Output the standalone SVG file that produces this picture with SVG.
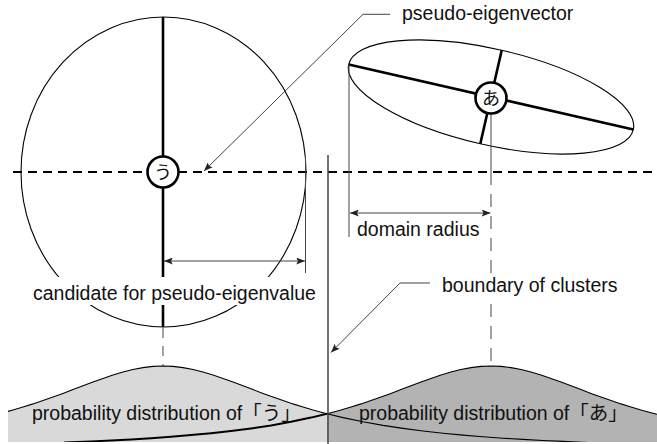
<svg xmlns="http://www.w3.org/2000/svg" width="657" height="444" viewBox="0 0 657 444">
<defs>
<style>
.lbl{font-family:"Liberation Sans","Noto Sans CJK JP",Arial,sans-serif;font-size:19.5px;fill:#111}
.kana{font-family:"Noto Sans CJK JP","Liberation Sans",sans-serif;font-size:18px;fill:#111;text-anchor:middle}
.thin{fill:none;stroke:#444;stroke-width:1}
.thick{fill:none;stroke:#000;stroke-width:2.6}
.outline{fill:none;stroke:#000;stroke-width:1.1}
.node{fill:#fff;stroke:#000;stroke-width:2.6}
.bg{fill:#fff}
</style>
<marker id="arr" viewBox="0 0 10 8" refX="10" refY="4" markerWidth="9" markerHeight="7" markerUnits="userSpaceOnUse" orient="auto-start-reverse">
<path d="M0,0 L10,4 L0,8 L2,4 Z" fill="#222"/>
</marker>
<clipPath id="clipb"><rect x="0" y="0" width="657" height="442"/></clipPath>
</defs>

<g id="distributions" clip-path="url(#clipb)">
<path id="fill-u" fill="#d9d9d9" d="M8,442 L8,411.4 L13,410 L23,407 L33,403.9 L43,400.5 L53,397 L63,393.4 L73,389.6 L83,385.8 L93,382 L103,378.4 L113,375 L123,372 L133,369.5 L143,367.6 L153,366.4 L163,366 L173,366.4 L183,367.6 L193,369.5 L203,372 L213,375 L223,378.4 L233,382 L243,385.8 L253,389.6 L263,393.4 L273,397 L283,400.5 L293,403.9 L303,407 L313,410 L323,412.7 L327,413.7 L327,442 Z"/>
<path id="fill-a" fill="#b3b3b3" d="M327,442 L327,413.7 L331,412.7 L341,410 L351,407 L361,403.9 L371,400.5 L381,397 L391,393.4 L401,389.6 L411,385.8 L421,382 L431,378.4 L441,375 L451,372 L461,369.5 L471,367.6 L481,366.4 L491,366 L501,366.4 L511,367.6 L521,369.5 L531,372 L541,375 L551,378.4 L561,382 L571,385.8 L581,389.6 L591,393.4 L601,397 L611,400.5 L621,403.9 L631,407 L641,410 L651,412.7 L657,414.2 L657,442 Z"/>
<path class="outline" d="M8,411.4 L13,410 L23,407 L33,403.9 L43,400.5 L53,397 L63,393.4 L73,389.6 L83,385.8 L93,382 L103,378.4 L113,375 L123,372 L133,369.5 L143,367.6 L153,366.4 L163,366 L173,366.4 L183,367.6 L193,369.5 L203,372 L213,375 L223,378.4 L233,382 L243,385.8 L253,389.6 L263,393.4 L273,397 L283,400.5 L293,403.9 L303,407 L313,410 L323,412.7 L327,413.7 L343,417.6 L363,421.8 L383,425.4 L403,428.4 L423,431 L443,433.2 L463,435.1 L483,436.8 L503,438.2 L523,439.4 L543,440.5 L563,441.4 L577,442 L590,442.6"/>
<path fill="none" stroke="#000" stroke-width="2" d="M64,442.6 L77,442 L91,441.4 L111,440.5 L131,439.4 L151,438.2 L171,436.8 L191,435.1 L211,433.2 L231,431 L251,428.4 L271,425.4 L291,421.8 L311,417.6 L327,413.7"/>
<path class="outline" d="M327,413.7 L331,412.7 L341,410 L351,407 L361,403.9 L371,400.5 L381,397 L391,393.4 L401,389.6 L411,385.8 L421,382 L431,378.4 L441,375 L451,372 L461,369.5 L471,367.6 L481,366.4 L491,366 L501,366.4 L511,367.6 L521,369.5 L531,372 L541,375 L551,378.4 L561,382 L571,385.8 L581,389.6 L591,393.4 L601,397 L611,400.5 L621,403.9 L631,407 L641,410 L651,412.7 L657,414.2"/>
</g>

<g id="cluster-u">
<ellipse class="outline" cx="163.5" cy="172" rx="142.5" ry="155"/>
<line class="thick" x1="163" y1="17" x2="163" y2="327"/>
</g>

<g id="cluster-a">
<ellipse class="outline" cx="491" cy="97" rx="146" ry="48" transform="rotate(12.9 491 97)"/>
<line class="thick" x1="348.7" y1="64.4" x2="633.3" y2="129.6"/>
<line class="thick" x1="501.7" y1="50.2" x2="480.3" y2="143.8"/>
</g>

<g id="connectors">
<line fill="none" stroke="#000" stroke-width="2.2" stroke-dasharray="9 6" x1="13" y1="172" x2="657" y2="172"/>
<line class="thin" x1="491" y1="114" x2="491" y2="172"/>
<line class="thin" stroke-dasharray="13 9" x1="491" y1="172" x2="491" y2="366"/>
<line class="thin" stroke-dasharray="10 8" x1="163" y1="328" x2="163" y2="366"/>
<line class="thin" x1="349" y1="64.4" x2="349" y2="237"/>
<line class="thin" x1="305.5" y1="156" x2="305.5" y2="273"/>
<line class="thin" x1="164" y1="261" x2="305" y2="261" marker-start="url(#arr)" marker-end="url(#arr)"/>
<line class="thin" x1="350" y1="213" x2="490.5" y2="213" marker-start="url(#arr)" marker-end="url(#arr)"/>
<line fill="none" stroke="#444" stroke-width="1.5" x1="328" y1="155" x2="328" y2="444"/>
<polyline class="thin" points="390,14.3 363,14.3 204,171" marker-end="url(#arr)"/>
<polyline class="thin" points="430,283 400,283 331,352.5" marker-end="url(#arr)"/>
</g>

<g id="node-u">
<circle class="node" cx="163" cy="172" r="15.5"/>
<text class="kana" x="163" y="178.5">う</text>
</g>
<g id="node-a">
<circle class="node" cx="491" cy="98" r="15.5"/>
<text class="kana" x="491" y="104.5">あ</text>
</g>

<g id="label-eigenvector">
<text class="lbl" x="402" y="20">pseudo-eigenvector</text>
</g>
<g id="label-domain">
<text class="lbl" x="357" y="236">domain radius</text>
</g>
<g id="label-boundary">
<rect class="bg" x="437" y="275" width="188" height="24"/>
<text class="lbl" x="442" y="292">boundary of clusters</text>
</g>
<g id="label-candidate">
<rect class="bg" x="29" y="277" width="293" height="28"/>
<text class="lbl" x="33" y="300">candidate for pseudo-eigenvalue</text>
</g>
<g id="label-dist-u">
<text class="lbl" x="32" y="420">probability distribution of「う」</text>
</g>
<g id="label-dist-a">
<text class="lbl" x="359" y="420">probability distribution of「あ」</text>
</g>
</svg>
